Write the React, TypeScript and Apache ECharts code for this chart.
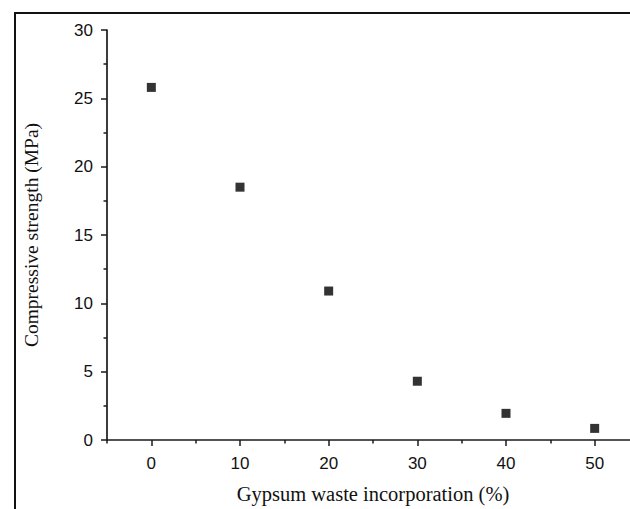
import React, { useEffect, useRef } from "react";
import * as echarts from "echarts";

const xValues = [0, 10, 20, 30, 40, 50];
const strength = [25.8, 18.5, 10.9, 4.3, 1.95, 0.85];
const xTitle = "Gypsum waste incorporation (%)";
const yTitle = "Compressive strength (MPa)";

export default function App() {
  const ref = useRef<HTMLDivElement>(null);
  useEffect(() => {
    if (!ref.current) return;
    const chart = echarts.init(ref.current, undefined, { renderer: "svg" });
    const lineCol = "#1a1a1a";
    const labelStyle = { color: "#111", fontFamily: "Liberation Sans, Arial, sans-serif", fontSize: 17 };
    const nameStyle = { color: "#111", fontFamily: "Liberation Serif, Times New Roman, serif", fontSize: 20 };
    chart.setOption({
      animation: false,
      backgroundColor: "#fff",
      grid: { left: 107, right: 21, top: 30, bottom: 69, containLabel: false },
      xAxis: [
        {
          type: "value",
          min: -5,
          max: 55,
          interval: 10,
          axisLine: { show: true, onZero: false, lineStyle: { color: lineCol, width: 1.7 } },
          axisTick: { show: true, inside: false, length: 3.5, lineStyle: { color: lineCol, width: 1.5 } },
          minorTick: { show: true, splitNumber: 2, length: 6, lineStyle: { color: lineCol, width: 1.5 } },
          splitLine: { show: false },
          axisLabel: { show: false },
          name: xTitle,
          nameLocation: "middle",
          nameGap: 43,
          nameTextStyle: { ...nameStyle, fontSize: 20.5 },
        },
        {
          type: "value",
          min: -5,
          max: 55,
          interval: 5,
          position: "bottom",
          axisLine: { show: false, onZero: false },
          axisTick: { show: false },
          splitLine: { show: false },
          axisLabel: {
            ...labelStyle,
            margin: 15,
            formatter: (v: number) => (v >= 0 && v <= 50 && v % 10 === 0 ? String(v) : ""),
          },
        },
      ],
      yAxis: {
        type: "value",
        min: 0,
        max: 30,
        interval: 5,
        axisLine: { show: true, onZero: false, lineStyle: { color: lineCol, width: 1.7 } },
        axisTick: { show: true, inside: false, length: 6, lineStyle: { color: lineCol, width: 1.5 } },
        minorTick: { show: true, splitNumber: 2, length: 3.5, lineStyle: { color: lineCol, width: 1.5 } },
        splitLine: { show: false },
        axisLabel: { ...labelStyle, margin: 14 },
        name: yTitle,
        nameLocation: "middle",
        nameGap: 66,
        nameTextStyle: { ...nameStyle, fontSize: 19.5 },
      },
      graphic: [
        {
          type: "rect",
          shape: { x: 15, y: 13, width: 700, height: 600 },
          style: { fill: "none", stroke: "#111", lineWidth: 2 },
          silent: true,
          z: 100,
        },
      ],
      series: [
        {
          type: "scatter",
          xAxisIndex: 0,
          data: xValues.map((x, i) => [x, strength[i]]),
          symbol: "rect",
          symbolSize: 9,
          itemStyle: { color: "#000" },
        },
      ],
    });
    return () => chart.dispose();
  }, []);
  return (
    <div style={{ position: "fixed", left: 0, top: 0, width: 630, height: 509, overflow: "hidden", background: "#fff" }}>
      <div ref={ref} style={{ width: 660, height: 509 }} />
    </div>
  );
}
